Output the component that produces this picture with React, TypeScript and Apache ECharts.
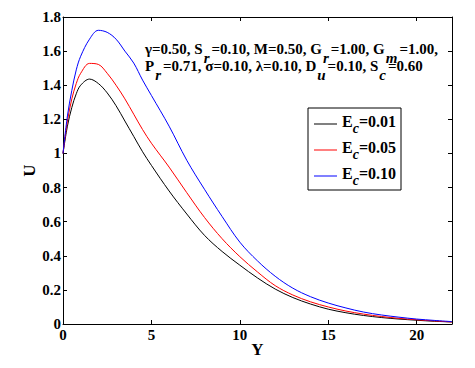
import React, { useEffect, useRef } from "react";
import * as echarts from "echarts";

// Data
const Y_VALUES = [0, 0.25, 0.5, 0.75, 1, 1.5, 2, 2.5, 3, 3.5, 4, 4.5, 5, 6, 7, 8, 9, 10, 11, 12, 13, 14, 15, 16, 17, 18, 19, 20, 21, 22];
const U_EC_001 = [1.0, 1.16, 1.27, 1.35, 1.40, 1.436, 1.41, 1.355, 1.28, 1.19, 1.10, 1.01, 0.93, 0.78, 0.645, 0.52, 0.425, 0.345, 0.27, 0.205, 0.155, 0.117, 0.087, 0.066, 0.05, 0.038, 0.029, 0.022, 0.016, 0.012];
const U_EC_005 = [1.0, 1.19, 1.32, 1.41, 1.47, 1.528, 1.522, 1.47, 1.40, 1.32, 1.23, 1.14, 1.06, 0.92, 0.77, 0.625, 0.5, 0.395, 0.305, 0.225, 0.17, 0.13, 0.1, 0.076, 0.058, 0.044, 0.033, 0.025, 0.018, 0.012];
const U_EC_010 = [1.0, 1.22, 1.37, 1.49, 1.57, 1.67, 1.722, 1.71, 1.67, 1.60, 1.53, 1.43, 1.34, 1.16, 0.96, 0.79, 0.63, 0.48, 0.37, 0.28, 0.21, 0.16, 0.123, 0.094, 0.07, 0.053, 0.04, 0.029, 0.021, 0.014];
const SERIES_NAMES = ["Ec=0.01", "Ec=0.05", "Ec=0.10"];
const SERIES_COLORS = ["#000000", "#ff0000", "#0000ff"];
const X_TICKS = { min: 0, max: 22, interval: 5 };
const Y_TICKS = { min: 0, max: 1.8, interval: 0.2 };

const FONT = "'Liberation Serif', 'Times New Roman', serif";

export default function App() {
  const ref = useRef<HTMLDivElement>(null);

  useEffect(() => {
    if (!ref.current) return;
    const chart = echarts.init(ref.current, null, { renderer: "svg" });
    const seriesData = [U_EC_001, U_EC_005, U_EC_010].map((vals) =>
      Y_VALUES.map((x, i) => [x, vals[i]])
    );
    const tickLabel = { fontFamily: FONT, fontWeight: "bold" as const, fontSize: 15, color: "#000" };
    const axisLine = { show: true, onZero: false, lineStyle: { color: "#000", width: 1 } };
    const axisTick = { show: true, inside: true, length: 4, lineStyle: { color: "#000" } };

    const mainRich = {
      m: { fontFamily: FONT, fontWeight: "bold", fontSize: 15, fill: "#000", verticalAlign: "top" },
      s: { fontFamily: FONT, fontWeight: "bold", fontStyle: "italic", fontSize: 15, fill: "#000", verticalAlign: "top", padding: [9.5, 2, 0, 1] },
    };

    chart.setOption({
      animation: false,
      backgroundColor: "#fff",
      grid: { left: 63, right: 23, top: 17, bottom: 44, containLabel: false },
      xAxis: [
        {
          type: "value",
          position: "bottom",
          ...X_TICKS,
          name: "Y",
          nameLocation: "middle",
          nameGap: 17,
          nameMoveOverlap: false,
          nameTextStyle: { fontFamily: FONT, fontWeight: "bold", fontSize: 17, color: "#000" },
          axisLine,
          axisTick,
          splitLine: { show: false },
          axisLabel: { ...tickLabel, margin: 3, showMaxLabel: false },
        },
        {
          type: "value",
          position: "top",
          ...X_TICKS,
          axisLine,
          axisTick,
          splitLine: { show: false },
          axisLabel: { show: false },
        },
      ],
      yAxis: [
        {
          type: "value",
          position: "left",
          ...Y_TICKS,
          name: "U",
          nameLocation: "middle",
          nameGap: 25,
          nameMoveOverlap: false,
          nameTextStyle: { fontFamily: FONT, fontWeight: "bold", fontSize: 17, color: "#000" },
          axisLine,
          axisTick,
          splitLine: { show: false },
          axisLabel: { ...tickLabel, margin: 2 },
        },
        {
          type: "value",
          position: "right",
          ...Y_TICKS,
          axisLine,
          axisTick,
          splitLine: { show: false },
          axisLabel: { show: false },
        },
      ],
      legend: {
        data: SERIES_NAMES,
        orient: "vertical",
        left: 308,
        top: 108,
        icon: "rect",
        itemWidth: 23,
        itemHeight: 1,
        itemGap: 4,
        padding: [5, 5, 3, 6],
        borderColor: "#000",
        borderWidth: 1,
        borderRadius: 0,
        backgroundColor: "#fff",
        formatter: (name: string) => `{m|E}{s|c}{m|=${name.split("=")[1]}}`,
        textStyle: {
          rich: {
            m: { fontFamily: FONT, fontWeight: "bold", fontSize: 16, color: "#000", verticalAlign: "top" },
            s: { fontFamily: FONT, fontWeight: "bold", fontStyle: "italic", fontSize: 14, color: "#000", verticalAlign: "top", padding: [8, 0, 0, 0] },
          },
        },
      },
      graphic: [
        {
          type: "text",
          x: 145,
          y: 41,
          style: {
            text: "{m|γ=0.50, S}{s|r}{m|=0.10, M=0.50, G}{s|r}{m|=1.00, G}{s|m}{m|=1.00,}",
            rich: mainRich,
            verticalAlign: "top",
            align: "left",
          },
          z: 10,
        },
        {
          type: "text",
          x: 145,
          y: 58,
          style: {
            text: "{m|P}{s|r}{m|=0.71, σ=0.10, λ=0.10, D}{s|u}{m|=0.10, S}{s|c}{m|=0.60}",
            rich: mainRich,
            verticalAlign: "top",
            align: "left",
          },
          z: 10,
        },
      ],
      series: seriesData.map((data, i) => ({
        name: SERIES_NAMES[i],
        type: "line",
        xAxisIndex: 0,
        yAxisIndex: 0,
        data,
        smooth: 0.35,
        symbol: "none",
        lineStyle: { color: SERIES_COLORS[i], width: 1 },
        itemStyle: { color: SERIES_COLORS[i] },
      })),
    });
    return () => chart.dispose();
  }, []);

  return (
    <div
      ref={ref}
      style={{ position: "fixed", left: 0, top: 0, width: 475, height: 368, background: "#fff" }}
    />
  );
}
